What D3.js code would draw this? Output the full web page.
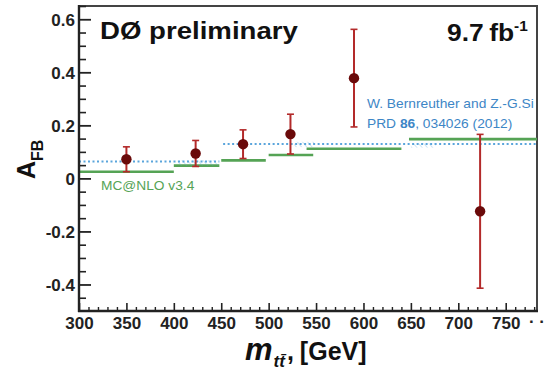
<!DOCTYPE html>
<html>
<head>
<meta charset="utf-8">
<script src="https://cdn.jsdelivr.net/npm/d3@7"></script>
<style>
  html, body { margin: 0; padding: 0; background: #fff; }
  svg { display: block; font-family: "Liberation Sans", Arial, Helvetica, sans-serif; }
</style>
</head>
<body>
<svg id="chart" width="547" height="371"></svg>
<script>
// Measured forward-backward asymmetry vs. ttbar invariant mass
const massBins = [350, 423, 473, 523, 590, 723];
const afbValues = [0.072, 0.094, 0.129, 0.167, 0.378, -0.124];
const afbErrors = [0.047, 0.049, 0.054, 0.075, 0.184, 0.29];

// MC@NLO v3.4 prediction (step per bin)
const mcnloLo = [300, 400, 450, 500, 540, 648];
const mcnloHi = [400, 448, 497, 547, 640, 783];
const mcnloValues = [0.025, 0.048, 0.068, 0.088, 0.112, 0.148];

// Bernreuther & Si prediction (dotted steps)
const theoryLo = [300, 452];
const theoryHi = [448, 783];
const theoryValues = [0.064, 0.13];

// Small hatched uncertainty pieces of the Bernreuther & Si prediction
const bandLo = [404, 527, 650];
const bandHi = [447, 548, 676];
const bandMin = [0.048, 0.118, 0.116];
const bandMax = [0.068, 0.138, 0.132];

const xTicks = [300, 350, 400, 450, 500, 550, 600, 650, 700, 750];
const yTicks = [-0.4, -0.2, 0, 0.2, 0.4, 0.6];
const yTickLabels = ["-0.4", "-0.2", "0", "0.2", "0.4", "0.6"];

const svg = d3.select("#chart");
const plotL = 79, plotR = 537, plotT = 6, plotB = 311;

const x = d3.scaleLinear().domain([300, 783]).range([plotL, plotR]);
const y = d3.scaleLinear().domain([-0.5, 0.65]).range([plotB, plotT]);

const green = "#55a355";
const blue = "#5aa5dc";
const errRed = "#b32a2a";
const markerRed = "#6a0a0a";

// hatch pattern for the theory uncertainty
const defs = svg.append("defs");
const pat = defs.append("pattern")
  .attr("id", "hatch").attr("patternUnits", "userSpaceOnUse")
  .attr("width", 4).attr("height", 4)
  .attr("patternTransform", "rotate(-40)");
pat.append("line").attr("x1", 0).attr("y1", 0).attr("x2", 0).attr("y2", 4)
  .attr("stroke", blue).attr("stroke-width", 1).attr("opacity", 0.6);

// frame (top and right)
svg.append("rect")
  .attr("x", plotL).attr("y", plotT)
  .attr("width", plotR - plotL).attr("height", plotB - plotT)
  .attr("fill", "none").attr("stroke", "#444").attr("stroke-width", 2);

// MC@NLO steps
svg.append("g").selectAll("line").data(mcnloValues).join("line")
  .attr("x1", (d, i) => x(mcnloLo[i])).attr("x2", (d, i) => x(mcnloHi[i]))
  .attr("y1", d => y(d)).attr("y2", d => y(d))
  .attr("stroke", green).attr("stroke-width", 2.6);

// theory uncertainty hatch
svg.append("g").selectAll("rect").data(bandLo).join("rect")
  .attr("x", (d, i) => x(d)).attr("width", (d, i) => x(bandHi[i]) - x(d))
  .attr("y", (d, i) => y(bandMax[i])).attr("height", (d, i) => y(bandMin[i]) - y(bandMax[i]))
  .attr("fill", "url(#hatch)");

// Bernreuther & Si dotted steps
svg.append("g").selectAll("line").data(theoryValues).join("line")
  .attr("x1", (d, i) => x(theoryLo[i])).attr("x2", (d, i) => x(theoryHi[i]))
  .attr("y1", d => y(d)).attr("y2", d => y(d))
  .attr("stroke", blue).attr("stroke-width", 2)
  .attr("stroke-dasharray", "2,2.5");

// data error bars
const pts = svg.append("g");
massBins.forEach((m, i) => {
  const cx = x(m), v = afbValues[i], e = afbErrors[i];
  pts.append("line").attr("x1", cx).attr("x2", cx)
    .attr("y1", y(v - e)).attr("y2", y(v + e))
    .attr("stroke", errRed).attr("stroke-width", 2);
  [v - e, v + e].forEach(t => {
    pts.append("line").attr("x1", cx - 3.5).attr("x2", cx + 3.5)
      .attr("y1", y(t)).attr("y2", y(t))
      .attr("stroke", errRed).attr("stroke-width", 1.6);
  });
  pts.append("circle").attr("cx", cx).attr("cy", y(v)).attr("r", 5.2)
    .attr("fill", markerRed);
});

// axes: ticks drawn inward
const yMinor = d3.range(-9, 14).map(k => k * 0.05)
  .filter(v => Math.abs(Math.round(v * 20)) % 4 !== 0);
svg.append("g").attr("transform", `translate(${plotL},0)`)
  .call(d3.axisLeft(y).tickValues(yMinor).tickSize(-7).tickFormat(""))
  .call(g => g.select(".domain").remove())
  .call(g => g.selectAll("line").attr("stroke", "#222").attr("stroke-width", 1.6));
svg.append("g").attr("transform", `translate(${plotL},0)`)
  .call(d3.axisLeft(y).tickValues(yTicks).tickSize(-12).tickPadding(4)
    .tickFormat((d, i) => yTickLabels[i]))
  .call(g => g.select(".domain").remove())
  .call(g => g.selectAll("line").attr("stroke", "#222").attr("stroke-width", 1.8))
  .call(g => g.selectAll("text").attr("font-size", 17).attr("font-weight", "bold")
    .attr("fill", "#222").attr("dy", "0.36em"));

const xMinor = d3.range(31, 79).map(k => k * 10).filter(v => v % 50 !== 0);
svg.append("g").attr("transform", `translate(0,${plotB})`)
  .call(d3.axisBottom(x).tickValues(xMinor).tickSize(-4).tickFormat(""))
  .call(g => g.select(".domain").remove())
  .call(g => g.selectAll("line").attr("stroke", "#222").attr("stroke-width", 1.4));
svg.append("g").attr("transform", `translate(0,${plotB})`)
  .call(d3.axisBottom(x).tickValues(xTicks).tickSize(-8).tickPadding(4).tickFormat(d3.format("d")))
  .call(g => g.select(".domain").remove())
  .call(g => g.selectAll("line").attr("stroke", "#222").attr("stroke-width", 1.6))
  .call(g => g.selectAll("text").attr("font-size", 17).attr("font-weight", "bold")
    .attr("fill", "#222").attr("dy", "0.85em"));

// axis lines
svg.append("line").attr("x1", plotL).attr("x2", plotL).attr("y1", plotT - 1).attr("y2", plotB + 1)
  .attr("stroke", "#222").attr("stroke-width", 2.4);
svg.append("line").attr("x1", plotL - 1).attr("x2", plotR + 1).attr("y1", plotB).attr("y2", plotB)
  .attr("stroke", "#222").attr("stroke-width", 2.4);

// continuation dots after the last label
svg.append("text").attr("x", 537).attr("y", 327).attr("text-anchor", "middle")
  .attr("font-size", 17).attr("font-weight", "bold").attr("fill", "#222").text("· ·");

// titles
svg.append("text").attr("transform", "translate(100,39) scale(1.15,1)")
  .attr("font-size", 24).attr("font-weight", "bold").attr("fill", "#111")
  .text("DØ preliminary");

const lumi = svg.append("text").attr("transform", "translate(447,41) scale(1.1,1)")
  .attr("font-size", 24).attr("font-weight", "bold").attr("fill", "#111");
lumi.append("tspan").text("9.7");
lumi.append("tspan").attr("dx", 5).text("fb");
lumi.append("tspan").attr("font-size", 14).attr("dy", -10).text("-1");

svg.append("text").attr("transform", "translate(101,190) scale(1.1,1)")
  .attr("font-size", 12.5).attr("fill", green).text("MC@NLO v3.4");

const th = svg.append("text").attr("transform", "translate(367,108) scale(1.06,1)")
  .attr("font-size", 13).attr("fill", "#3d86c6");
th.append("tspan").attr("x", 0).text("W. Bernreuther and Z.-G.Si");
const th2 = svg.append("text").attr("transform", "translate(367,128) scale(1.06,1)")
  .attr("font-size", 13).attr("fill", "#3d86c6");
th2.append("tspan").text("PRD ");
th2.append("tspan").attr("font-weight", "bold").text("86");
th2.append("tspan").text(", 034026 (2012)");

// y-axis title
const yt = svg.append("text").attr("transform", "translate(35,179) rotate(-90)")
  .attr("font-weight", "bold").attr("fill", "#111");
yt.append("tspan").attr("font-size", 25).text("A");
yt.append("tspan").attr("font-size", 16).attr("dy", 8).text("FB");

// x-axis title
const xt = svg.append("text").attr("transform", "translate(245,360)")
  .attr("font-weight", "bold").attr("fill", "#111");
xt.append("tspan").attr("font-size", 31).attr("font-style", "italic").text("m");
xt.append("tspan").attr("font-size", 17).attr("font-style", "italic").attr("dx", 1).attr("dy", 7).text("tt\u0304");
xt.append("tspan").attr("font-size", 25).attr("dx", 2).attr("dy", -7).text(",");
xt.append("tspan").attr("font-size", 25).attr("dx", 6).text("[GeV]");
</script>
</body>
</html>
